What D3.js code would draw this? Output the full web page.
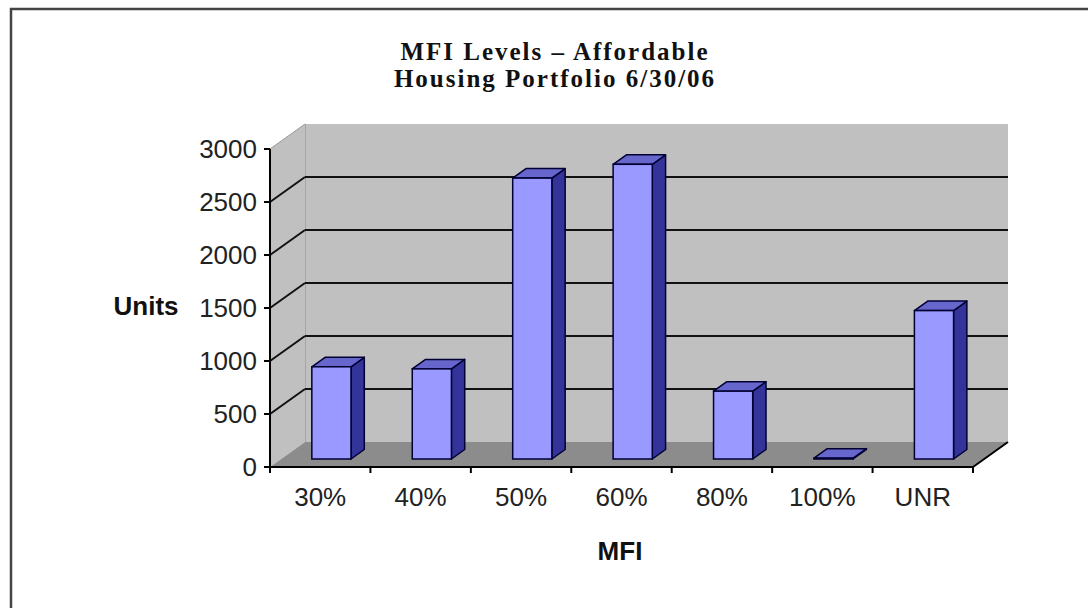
<!DOCTYPE html>
<html>
<head>
<meta charset="utf-8">
<style>
body { margin: 0; background: #fff; }
.tick_label { font-family: "Liberation Sans", Arial, sans-serif; font-size: 26px; fill: #222; }
.axis_title { font-family: "Liberation Sans", Arial, sans-serif; font-size: 26px; font-weight: bold; fill: #111; }
.chart_title { font-family: "Liberation Serif", "Times New Roman", serif; font-size: 25px; font-weight: bold; fill: #111; letter-spacing: 2px; }
</style>
</head>
<body>
<div id="chart"></div>
<script src="https://d3js.org/d3.v7.min.js"></script>
<script>
// data
var categories = ["30%", "40%", "50%", "60%", "80%", "100%", "UNR"];
var units = [870, 850, 2650, 2780, 640, 8, 1400];
var yTicks = [0, 500, 1000, 1500, 2000, 2500, 3000];
var titleLines = ["MFI Levels \u2013 Affordable", "Housing Portfolio 6/30/06"];

var W = 1088, H = 608;
var svg = d3.select("#chart").append("svg")
  .attr("width", W).attr("height", H);

// outer frame (right and bottom are cut off in the original)
svg.append("path")
  .attr("d", "M11," + H + "V9H" + W)
  .attr("fill", "none").attr("stroke", "#444").attr("stroke-width", 2.5);

// 3d depth of the plot box
var depth = {dx: 35, dy: -25};
var barFront = 0.32, barBack = 0.70;

var x = d3.scaleBand().domain(categories).range([270, 973]).padding(0);
var y = d3.scaleLinear().domain([0, 3000]).range([467, 149]);

var x0 = x.range()[0], x1 = x.range()[1];
var yb = y(0), yt = y(3000);

function pts(a) { return a.map(function(p){ return p.join(","); }).join(" "); }

// back wall
svg.append("rect")
  .attr("x", x0 + depth.dx).attr("y", yt + depth.dy)
  .attr("width", x1 - x0).attr("height", yb - yt)
  .attr("fill", "#c0c0c0");
svg.append("line")
  .attr("x1", x0 + depth.dx).attr("x2", x0 + depth.dx)
  .attr("y1", yt + depth.dy).attr("y2", yb + depth.dy)
  .attr("stroke", "#8a8a8a").attr("stroke-width", 1);

// side wall
svg.append("polygon")
  .attr("points", pts([[x0, yt], [x0 + depth.dx, yt + depth.dy], [x0 + depth.dx, yb + depth.dy], [x0, yb]]))
  .attr("fill", "#c0c0c0");
svg.append("line")
  .attr("x1", x0).attr("y1", yt).attr("x2", x0 + depth.dx).attr("y2", yt + depth.dy)
  .attr("stroke", "#999").attr("stroke-width", 1);

// floor
svg.append("polygon")
  .attr("points", pts([[x0, yb], [x1, yb], [x1 + depth.dx, yb + depth.dy], [x0 + depth.dx, yb + depth.dy]]))
  .attr("fill", "#8c8c8c");

// gridlines on the walls
var grid = yTicks.filter(function(v){ return v > 0 && v < 3000; });
svg.selectAll(".gridBack").data(grid).enter().append("line")
  .attr("x1", x0 + depth.dx).attr("x2", x1 + depth.dx)
  .attr("y1", function(d){ return y(d) + depth.dy; })
  .attr("y2", function(d){ return y(d) + depth.dy; })
  .attr("stroke", "#111").attr("stroke-width", 2);
svg.selectAll(".gridSide").data(grid).enter().append("line")
  .attr("x1", x0).attr("x2", x0 + depth.dx)
  .attr("y1", function(d){ return y(d); })
  .attr("y2", function(d){ return y(d) + depth.dy; })
  .attr("stroke", "#111").attr("stroke-width", 2);

// bars
var bw = x.bandwidth() * 0.39;
var fx = depth.dx * barFront, fy = depth.dy * barFront;
var bx = depth.dx * (barBack - barFront), by = depth.dy * (barBack - barFront);
var bars = svg.selectAll(".bar").data(units).enter().append("g");
bars.each(function(v, i) {
  var g = d3.select(this);
  var left = x(categories[i]) + x.bandwidth() / 2 + fx - bw / 2;
  var top = y(v) + fy, bottom = y(0) + fy;
  // side
  g.append("polygon")
    .attr("points", pts([[left + bw, top], [left + bw + bx, top + by], [left + bw + bx, bottom + by], [left + bw, bottom]]))
    .attr("fill", "#333399").attr("stroke", "#000033").attr("stroke-width", 1.5).attr("stroke-linejoin", "round");
  // top
  g.append("polygon")
    .attr("points", pts([[left, top], [left + bx, top + by], [left + bw + bx, top + by], [left + bw, top]]))
    .attr("fill", "#6666cc").attr("stroke", "#000033").attr("stroke-width", 1.5).attr("stroke-linejoin", "round");
  // front
  g.append("rect")
    .attr("x", left).attr("y", top)
    .attr("width", bw).attr("height", bottom - top)
    .attr("fill", "#9999ff").attr("stroke", "#000033").attr("stroke-width", 1.5);
});

// y axis
svg.append("line")
  .attr("x1", x0).attr("x2", x0).attr("y1", yt).attr("y2", yb)
  .attr("stroke", "#000").attr("stroke-width", 2);
svg.selectAll(".ytick").data(yTicks).enter().append("line")
  .attr("x1", x0 - 6).attr("x2", x0)
  .attr("y1", function(d){ return y(d); }).attr("y2", function(d){ return y(d); })
  .attr("stroke", "#000").attr("stroke-width", 2);
svg.selectAll(".ylabel").data(yTicks).enter().append("text")
  .attr("class", "tick_label")
  .attr("x", 257).attr("y", function(d){ return y(d); })
  .attr("dy", "0.36em").attr("text-anchor", "end")
  .text(function(d){ return d; });

// x axis
svg.append("line")
  .attr("x1", x0).attr("x2", x1).attr("y1", yb).attr("y2", yb)
  .attr("stroke", "#000").attr("stroke-width", 2);
svg.append("line")
  .attr("x1", x1).attr("x2", x1 + depth.dx).attr("y1", yb).attr("y2", yb + depth.dy)
  .attr("stroke", "#000").attr("stroke-width", 2);
var xt = categories.map(function(c){ return x(c); }).concat([x1]);
svg.selectAll(".xtick").data(xt).enter().append("line")
  .attr("x1", function(d){ return d; }).attr("x2", function(d){ return d; })
  .attr("y1", yb).attr("y2", yb + 6)
  .attr("stroke", "#000").attr("stroke-width", 2);
svg.selectAll(".xlabel").data(categories).enter().append("text")
  .attr("class", "tick_label")
  .attr("x", function(d){ return x(d) + x.bandwidth() / 2; })
  .attr("y", 506).attr("text-anchor", "middle")
  .text(function(d){ return d; });

// axis titles
svg.append("text").attr("class", "axis_title")
  .attr("x", 146).attr("y", 315).attr("text-anchor", "middle").text("Units");
svg.append("text").attr("class", "axis_title")
  .attr("x", 620).attr("y", 560).attr("text-anchor", "middle").text("MFI");

// title
svg.selectAll(".title").data(titleLines).enter().append("text")
  .attr("class", "chart_title")
  .attr("x", 555).attr("y", function(d, i){ return 60 + i * 27; })
  .attr("text-anchor", "middle")
  .text(function(d){ return d; });
</script>
</body>
</html>
